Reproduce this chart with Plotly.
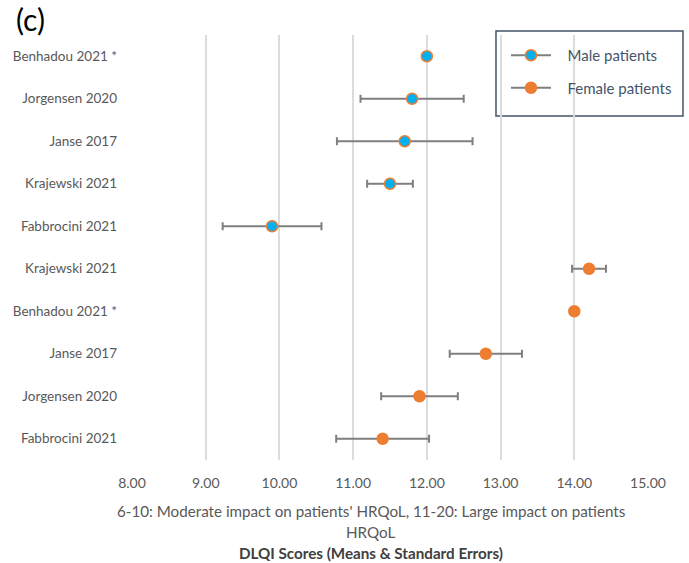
import plotly.graph_objects as go

# Study labels, top to bottom
study_labels = [
    "Benhadou 2021 *", "Jorgensen 2020", "Janse 2017", "Krajewski 2021", "Fabbrocini 2021",
    "Krajewski 2021", "Benhadou 2021 *", "Janse 2017", "Jorgensen 2020", "Fabbrocini 2021",
]

# Male patients (rows 0-4)
male_rows = [0, 1, 2, 3, 4]
male_mean = [12.0, 11.8, 11.7, 11.5, 9.9]
male_se = [0.0, 0.7, 0.92, 0.31, 0.67]

# Female patients (rows 5-9)
female_rows = [5, 6, 7, 8, 9]
female_mean = [14.2, 14.0, 12.8, 11.9, 11.4]
female_se = [0.23, 0.0, 0.49, 0.52, 0.63]

x_ticks = [8, 9, 10, 11, 12, 13, 14, 15]

BLUE = "#00B0F0"
ORANGE = "#ED7D31"
ERR_GREY = "#7F7F7F"
TEXT_GREY = "#595959"
LEGEND_BLUE = "#44546A"
FONT = "Lato"
PAD = "\u00a0\u00a0\u00a0"  # gap between legend glyph and label

fig = go.Figure()

err_style = dict(type="data", symmetric=True, color=ERR_GREY, thickness=2, width=4)
male_marker = dict(color=BLUE, size=11, line=dict(color=ORANGE, width=1.5))
female_marker = dict(color=ORANGE, size=11, line=dict(color=ORANGE, width=1.5))

fig.add_trace(go.Scatter(
    x=male_mean, y=male_rows, mode="markers", name="Male patients",
    marker=male_marker, error_x=dict(array=male_se, **err_style),
    legendgroup="m", showlegend=False,
))
fig.add_trace(go.Scatter(
    x=female_mean, y=female_rows, mode="markers", name="Female patients",
    marker=female_marker, error_x=dict(array=female_se, **err_style),
    legendgroup="f", showlegend=False,
))

# Legend entries: grey bar with the series marker in the middle
fig.add_trace(go.Scatter(
    x=[None], y=[None], mode="lines+markers", name=PAD + "Male patients",
    line=dict(color=ERR_GREY, width=2), marker=male_marker, legendgroup="m",
))
fig.add_trace(go.Scatter(
    x=[None], y=[None], mode="lines+markers", name=PAD + "Female patients",
    line=dict(color=ERR_GREY, width=2), marker=female_marker, legendgroup="f",
))

title_font = dict(size=15.2, color=TEXT_GREY, family=FONT)

fig.update_layout(
    width=689, height=563,
    margin=dict(l=132, r=41, t=35, b=103),
    paper_bgcolor="white", plot_bgcolor="white",
    font=dict(family=FONT, color=TEXT_GREY, size=14),
    xaxis=dict(
        range=[8, 15], tickvals=x_ticks, ticktext=[f"{v:.2f}" for v in x_ticks],
        showgrid=True, gridcolor="#DCDCDC", gridwidth=1.5,
        zeroline=False, showline=False, ticks="",
        ticklabelstandoff=13,
        tickfont=dict(size=14, color=TEXT_GREY),
        fixedrange=True,
    ),
    yaxis=dict(
        range=[9.5, -0.5], tickvals=list(range(len(study_labels))), ticktext=study_labels,
        showgrid=False, zeroline=False, showline=False, ticks="",
        ticklabelstandoff=14,
        tickfont=dict(size=13.5, color=TEXT_GREY),
        fixedrange=True,
    ),
    legend=dict(
        x=0.7248, y=0.9906, xanchor="left", yanchor="top",
        bgcolor="rgba(0,0,0,0)", borderwidth=0,
        font=dict(size=15, color=LEGEND_BLUE),
        traceorder="grouped", tracegroupgap=10,
        itemwidth=40,
    ),
    showlegend=True,
    shapes=[
        # legend frame
        dict(type="rect", xref="paper", yref="paper",
             x0=0.7054, x1=1.0678, y0=0.8094, y1=1.0094,
             line=dict(color=LEGEND_BLUE, width=1.5), fillcolor="white", layer="below"),
    ],
    annotations=[
        dict(text="(c)", x=0, y=1, xref="paper", yref="paper", xanchor="left", yanchor="top",
             xshift=-118, yshift=36, showarrow=False,
             font=dict(size=30, color="black", family=FONT)),
        dict(text="6-10: Moderate impact on patients' HRQoL, 11-20: Large impact on patients",
             x=0.463, y=0, xref="paper", yref="paper", xanchor="center", yanchor="middle",
             yshift=-51, showarrow=False, font=title_font),
        dict(text="HRQoL",
             x=0.463, y=0, xref="paper", yref="paper", xanchor="center", yanchor="middle",
             yshift=-72, showarrow=False, font=title_font),
        dict(text="<b>DLQI Scores (Means & Standard Errors)</b>",
             x=0.463, y=0, xref="paper", yref="paper", xanchor="center", yanchor="middle",
             yshift=-93, showarrow=False,
             font=dict(size=15.2, color="#404040", family=FONT)),
    ],
)

fig.write_html("out.html")
